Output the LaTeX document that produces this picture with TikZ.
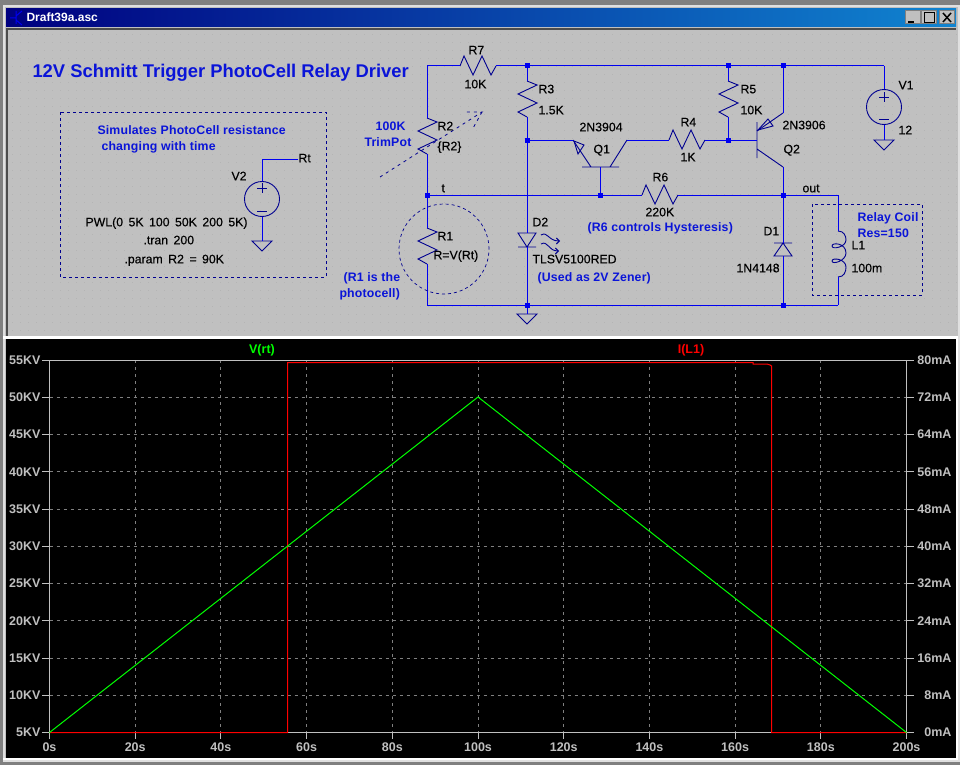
\documentclass[tikz,border=0pt]{standalone}
\usepackage{fontspec}
\setmainfont{Liberation Sans}
\newfontfamily\lblfont[FakeBold=0.3,WordSpace=1.6]{Liberation Sans}
\newfontfamily\notefont[LetterSpace=1.5]{Liberation Sans Bold}
\usetikzlibrary{arrows.meta,positioning}
\definecolor{wireblue}{HTML}{0000F0}
\definecolor{symblue}{HTML}{000090}
\definecolor{textblue}{HTML}{0A14D8}
\definecolor{panelgray}{HTML}{C0C0C0}
\definecolor{dotgray}{HTML}{B4B4B4}
\definecolor{gridgray}{HTML}{808080}
\definecolor{barleft}{HTML}{000080}
\definecolor{barright}{HTML}{1084D0}
\begin{document}
\begin{tikzpicture}[
    x=1pt,y=-1pt,
    line width=1pt,
    wire/.style={draw=wireblue,line width=1pt},
    sym/.style={draw=symblue,line width=0.9pt},
    dashbox/.style={draw=symblue,line width=0.9pt,dash pattern=on 3pt off 3pt},
    junction/.style={
        rectangle,
        draw=wireblue,
        fill=wireblue,
        inner sep=0pt,
        minimum size=4pt},
    source/.style={
        circle,
        draw=symblue,
        line width=0.9pt,
        inner sep=0pt,
        minimum size=35pt},
    lbl/.style={
        anchor=base west,
        yshift=-4.3pt,
        inner sep=0pt,
        text=black,
        font=\lblfont\fontsize{12.3}{12}\selectfont},
    note/.style={
        lbl,
        text=textblue,
        font=\notefont\fontsize{12.3}{12}\selectfont},
    axislabel/.style={
        inner sep=0pt,
        text=panelgray,
        font=\fontsize{12.5}{12}\bfseries\selectfont},
    winbutton/.style={
        rectangle,
        fill=panelgray,
        draw=gridgray,
        inner sep=0pt,
        minimum width=15pt,
        minimum height=13pt},
    pics/resistor/.style={code={
        \coordinate (-a) at (0,0);
        \coordinate (-b) at (0,36);
        \draw[sym] (-a) -- (10,4) -- (-9,13) -- (10,22) -- (-9,31) -- (-b);
    }},
    pics/ground/.style={code={
        \coordinate (-a) at (0,0);
        \draw[sym] (-a) ++(-10,0) -- (10,0) -- (0,10) -- cycle;
    }}
]
\useasboundingbox (0,0) rectangle (960,765);

% window frames
\fill[gridgray] (0,0) rectangle (960,765);
\fill[white!88!black] (3,5) rectangle (960,762);
\fill[panelgray] (5,7) rectangle (958,760);
\shade[left color=barleft,right color=barright] (6,9) rectangle (956,27);
\fill[black!70] (6,28) rectangle (956,30);
\fill[black!70] (6,28) rectangle (8,336);
\fill[panelgray] (8,30) rectangle (956,335);
\foreach \dotx in {12,20,...,956}{
    \foreach \doty in {34,42,...,335}{
        \fill[dotgray] (\dotx,\doty) rectangle +(1,1);
    }
}
\fill[white] (3,336) rectangle (958,339);
\fill[black] (6,339) rectangle (956,758);
\fill[white] (3,758) rectangle (958,760);
\fill[white] (956,339) rectangle (958,760);

% title bar
\node[anchor=base west,inner sep=0pt,text=white,font=\fontsize{12}{12}\bfseries\selectfont] (wintitle) at (26,22) {Draft39a.asc};
\draw[wireblue] (16,11) -- (16,24) (10,18) -- (16,18) (16,16) -- (22,11) (16,20) -- (22,25);
\node[winbutton] (btnmin) at (912.5,17.5) {};
\node[winbutton] (btnmax) at (929,17.5) {};
\node[winbutton] (btnclose) at (947,17.5) {};
\draw[black,line width=1.5pt] (908,22) -- (914,22);
\draw[black,line width=1pt] (924,12.5) rectangle (934,22.5);
\draw[black,line width=1.5pt] (943,13) -- (951,22) (951,13) -- (943,22);

% junctions
\foreach \nm/\px/\py in {j1/527/66,j2/728/66,j3/783/66,j4/527/140,j5/728/140,j6/427/195,j7/600/195,j8/783/195,j9/527/305,j10/783/305}{
    \node[junction] (\nm) at (\px,\py) {};
}
\coordinate (c1) at (427,66);
\coordinate (c2) at (884,66);
\coordinate (c3) at (427,305);
\coordinate (c4) at (838,195);
\coordinate (c5) at (838,305);
\coordinate (c6) at (262,159);
\coordinate (c7) at (298,159);

% parts
\foreach \nm/\px/\py in {R1/427/228,R2/427/118,R3/527/81,R5/728/81}{
    \pic (\nm) at (\px,\py) {resistor};
}
\foreach \nm/\px/\py in {R7/460/66,R4/669/140,R6/642/195}{
    \pic[rotate=90] (\nm) at (\px,\py) {resistor};
}
\node[source] (V1) at (884,107) {};
\node[source] (V2) at (262,199) {};
\draw[sym] (879,97) -- (889,97) (884,92) -- (884,102) (879,119) -- (889,119);
\draw[sym] (257,188) -- (267,188) (262,183) -- (262,193) (257,211) -- (267,211);
\pic (G1) at (884,140) {ground};
\pic (G2) at (262,241) {ground};
\pic (G3) at (527,314) {ground};

% diodes
\coordinate (D2a) at (527,233);
\coordinate (D2k) at (527,247);
\coordinate (D1k) at (783,243);
\coordinate (D1a) at (783,256);
\draw[sym] (518,233) -- (536,233) -- (D2k) -- cycle (518,247) -- (536,247);
\draw[sym] (774,256) -- (792,256) -- (D1k) -- cycle (774,243) -- (792,243);
\draw[sym,-{Straight Barb[length=3pt,width=6pt]}] (541,235) .. controls (548,231) and (548,241) .. (560,241);
\draw[sym,-{Straight Barb[length=3pt,width=6pt]}] (541,244) .. controls (548,240) and (548,251) .. (559,251);

% transistors
\coordinate (Q1e) at (573,140);
\coordinate (Q1c) at (627,140);
\coordinate (Q1b) at (600,167);
\coordinate (Q2b) at (757,140);
\coordinate (Q2e) at (783,113);
\coordinate (Q2c) at (783,167);
\draw[sym] (Q1e) -- (591,167) (582,167) -- (619,167) (610,167) -- (Q1c);
\draw[sym] (574,141) -- (584,145) -- (578,154) -- cycle;
\draw[sym] (757,122) -- (757,158) (757,131) -- (Q2e) (757,149) -- (Q2c);
\draw[sym] (758,130) -- (768,119) -- (773,126) -- cycle;

% inductor
\coordinate (L1a) at (838,231);
\coordinate (L1b) at (838,277);
\draw[sym] (L1a) .. controls (844,231) and (846,236) .. (846,240)
    .. controls (846,247) and (832,250) .. (832,246)
    .. controls (832,242) and (846,243) .. (846,253)
    .. controls (846,261) and (832,265) .. (832,261)
    .. controls (832,257) and (846,259) .. (846,267)
    .. controls (846,272) and (844,277) .. (L1b);

% wires
\path[wire]
    (R7-b) edge (j1)
    (j1) edge (j2)
    (j2) edge (j3)
    (j3) edge (c2)
    (c2) edge (V1.north)
    (V1.south) edge (G1-a)
    (c1) edge (R7-a)
    (c1) edge (R2-a)
    (R2-b) edge (j6)
    (j6) edge (R1-a)
    (R1-b) edge (c3)
    (c3) edge (j9)
    (j9) edge (j10)
    (j10) edge (c5)
    (j6) edge (j7)
    (j7) edge (R6-a)
    (R6-b) edge (j8)
    (j8) edge (c4)
    (c4) edge (L1a)
    (L1b) edge (c5)
    (j1) edge (R3-a)
    (R3-b) edge (j4)
    (j4) edge (D2a)
    (D2k) edge (j9)
    (j9) edge (G3-a)
    (j4) edge (Q1e)
    (Q1c) edge (R4-a)
    (R4-b) edge (j5)
    (j5) edge (Q2b)
    (j2) edge (R5-a)
    (R5-b) edge (j5)
    (j3) edge (Q2e)
    (Q2c) edge (j8)
    (j8) edge (D1k)
    (D1a) edge (j10)
    (Q1b) edge (j7)
    (c7) edge (c6)
    (c6) edge (V2.north)
    (V2.south) edge (G2-a);

% dashed things
\draw[dashbox] (60,112) rectangle (326,277);
\draw[dashbox] (812,204) rectangle (922,295);
\node[circle,draw=symblue,line width=0.7pt,dash pattern=on 3pt off 3pt,inner sep=0pt,minimum size=90pt] (photocirc) at (444,249) {};
\coordinate (trimtail) at (380,177);
\coordinate (trimtip) at (482,112);
\draw[draw=symblue,line width=0.8pt,dash pattern=on 3pt off 4pt] (trimtail) -- (trimtip) -- (463,112) (trimtip) -- (472,130);

% black labels
\foreach \nm/\px/\py/\txt in {
    lR7/468/50/R7,lR7v/464/84/10K,lR3/538/89/R3,lR3v/538/110/1.5K,lR5/740/89/R5,lR5v/740/110/10K,
    lQ1t/579/127/2N3904,lQ1/593/149/Q1,lR4/680/122/R4,lR4v/680/157/1K,lQ2t/782/125/2N3906,lQ2/783/149/Q2,
    lV1/898/85/V1,lV1v/898/130/12,lR6/652/177/R6,lR6v/645/212/220K,lout/802/188/out,lt/441/188/t,
    lD2/532/222/D2,lD2v/532/259/TLSV5100RED,lD1/763/231/D1,lD1v/736/268/1N4148,lL1/851/245/L1,lL1v/851/268/100m,
    lRt/298/158/Rt,lV2/231/176/V2,lpwl/85/222/PWL(0 5K 100 50K 200 5K),ltran/143/240/.tran 200,lparam/124/259/.param R2 = 90K,
    lR2/437/126/R2,lR2v/437/146/{\{R2\}},lR1/437/236/R1,lR1v/433/255/R=V(Rt)}{
    \node[lbl] (\nm) at (\px,\py) {\txt};
}
% blue notes
\foreach \nm/\px/\py/\txt in {
    nsim/97/130/Simulates PhotoCell resistance,nchg/101/146/changing with time,
    ntrim/375/126/100K,ntrimb/364/142/TrimPot,nphoto/343/277/(R1 is the,nphotob/339/293/photocell),
    nhyst/587/227/(R6 controls Hysteresis),nzen/537/277/(Used as 2V Zener),ncoil/857/217/Relay Coil,nres/857/233/Res=150}{
    \node[note] (\nm) at (\px,\py) {\txt};
}
\node[note,font=\fontsize{18.4}{20}\bfseries\selectfont,yshift=-1.5pt] (title) at (32,72) {12V Schmitt Trigger PhotoCell Relay Driver};

% plot
\coordinate (pTL) at (49.5,360);
\coordinate (pBR) at (906.5,732.5);
\foreach \i/\ll/\rl in {0/5KV/0mA,1/10KV/8mA,2/15KV/16mA,3/20KV/24mA,4/25KV/32mA,5/30KV/40mA,6/35KV/48mA,7/40KV/56mA,8/45KV/64mA,9/50KV/72mA,10/55KV/80mA}{
    \pgfmathsetmacro{\py}{732.5-37.25*\i}
    \ifnum\i>0 \ifnum\i<10
        \draw[gridgray,dash pattern=on 3pt off 4pt] (49.5,\py) -- (906.5,\py);
    \fi\fi
    \draw[panelgray] (42,\py) -- (49.5,\py) (906.5,\py) -- (914,\py);
    \node[axislabel,anchor=east] (yl\i) at (41,\py) {\ll};
    \node[axislabel,anchor=east] (yr\i) at (952,\py) {\rl};
}
\foreach \i/\xl in {0/0s,1/20s,2/40s,3/60s,4/80s,5/100s,6/120s,7/140s,8/160s,9/180s,10/200s}{
    \pgfmathsetmacro{\px}{49.5+85.7*\i}
    \ifnum\i>0 \ifnum\i<10
        \draw[gridgray,dash pattern=on 3pt off 4pt] (\px,360) -- (\px,732.5);
    \fi\fi
    \draw[panelgray] (\px,732.5) -- (\px,739);
    \node[axislabel,anchor=base] (xl\i) at (\px,751.5) {\xl};
}
\draw[panelgray] (pTL) rectangle (pBR);
\draw[red] (49.5,732.5) -- (287.5,732.5) -- (287.5,362.5) -- (753,362.5) -- (753,364) -- (767,364) -- (770,365) -- (771.5,366) -- (771.5,732.5) -- (906.5,732.5);
\draw[green] (49.5,732.5) -- (478,397) -- (906.5,732.5);
\node[axislabel,text=green,anchor=center] (vrt) at (262,350) {V(rt)};
\node[axislabel,text=red,anchor=center] (il1) at (691,350) {I(L1)};
\end{tikzpicture}
\end{document}
